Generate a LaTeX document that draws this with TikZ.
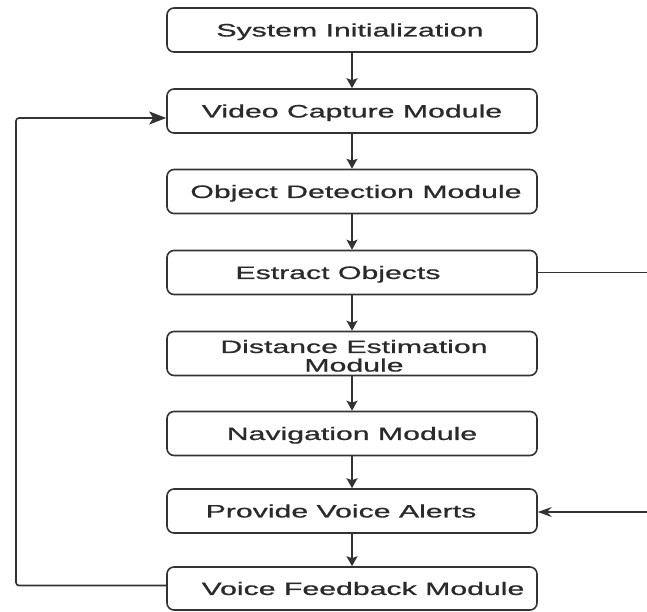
\documentclass[tikz,border=0pt]{standalone}
\usepackage{fontspec}
\setmainfont{Liberation Sans}
\newfontfamily\lblfont[FakeBold=0.6]{Liberation Sans}
\usetikzlibrary{arrows.meta}
\definecolor{ink}{HTML}{333333}
\definecolor{txtink}{HTML}{2A2A2A}
\newcommand{\wtxt}[1]{\scalebox{1.68}[1]{#1}}
\begin{document}
\begin{tikzpicture}[x=1pt,y=-1pt,
  boxnode/.style={draw=ink, line width=1.6pt, rounded corners=7pt, minimum width=370pt, minimum height=44pt, inner sep=0pt},
  lbl/.style={text=txtink, font=\lblfont\fontsize{18}{18.4}\selectfont, inner sep=0pt, text height=12.9pt, text depth=0pt},
  lbltwo/.style={text=txtink, font=\lblfont\fontsize{18}{18.4}\selectfont, inner sep=0pt},
  flow/.style={draw=ink, line width=1.6pt, -{Stealth[length=10pt,width=11pt,inset=2pt]}},
  fbk/.style={draw=ink, line width=1.6pt, rounded corners=3pt, -{Stealth[length=17pt,width=13pt,inset=4pt]}},
  plainline/.style={draw=ink, line width=1.2pt},
  inarr/.style={draw=ink, line width=1.2pt, -{Stealth[length=14pt,width=10pt,inset=5pt]}}
]
\fill[white] (0,0) rectangle (647,611);
\useasboundingbox (0,0) rectangle (647,611);

\node[boxnode] (b1) at (352,30) {};
\node[boxnode] (b2) at (352,111) {};
\node[boxnode] (b3) at (352,191.5) {};
\node[boxnode] (b4) at (352,272.5) {};
\node[boxnode] (b5) at (352,353.5) {};
\node[boxnode] (b6) at (352,433.5) {};
\node[boxnode] (b7) at (352,511) {};
\node[boxnode, minimum height=43pt] (b8) at (352,588.5) {};

\node[lbl] (t1) at ([xshift=-2pt]b1.center) {\wtxt{System Initialization}};
\node[lbl] (t2) at (b2.center) {\wtxt{Video Capture Module}};
\node[lbl] (t3) at ([xshift=4pt]b3.center) {\wtxt{Object Detection Module}};
\node[lbl] (t4) at ([xshift=-14pt]b4.center) {\wtxt{Estract Objects}};
\node[lbltwo] (t5) at ([xshift=2pt,yshift=-5pt]b5.center) {\wtxt{\begin{tabular}{@{}c@{}}Distance Estimation\\Module\end{tabular}}};
\node[lbl] (t6) at (b6.center) {\wtxt{Navigation Module}};
\node[lbl] (t7) at ([xshift=-11pt]b7.center) {\wtxt{Provide Voice Alerts}};
\node[lbl] (t8) at ([xshift=11pt]b8.center) {\wtxt{Voice Feedback Module}};

\draw[flow] (b1) -- (b2);
\draw[flow] (b2) -- (b3);
\draw[flow] (b3) -- (b4);
\draw[flow] (b4) -- (b5);
\draw[flow] (b5) -- (b6);
\draw[flow] (b6) -- (b7);
\draw[flow] (b7) -- (b8);

\coordinate (fbx) at (16,350);
\draw[fbk] ([yshift=3pt]b8.west) -| (fbx) |- ([yshift=-7pt]b2.west);

\coordinate (r4) at (647,272.5);
\draw[plainline] (b4.east) -- (r4);
\coordinate (r7) at (647,512);
\draw[inarr] (r7) -- ([yshift=-1pt]b7.east);
\end{tikzpicture}
\end{document}
